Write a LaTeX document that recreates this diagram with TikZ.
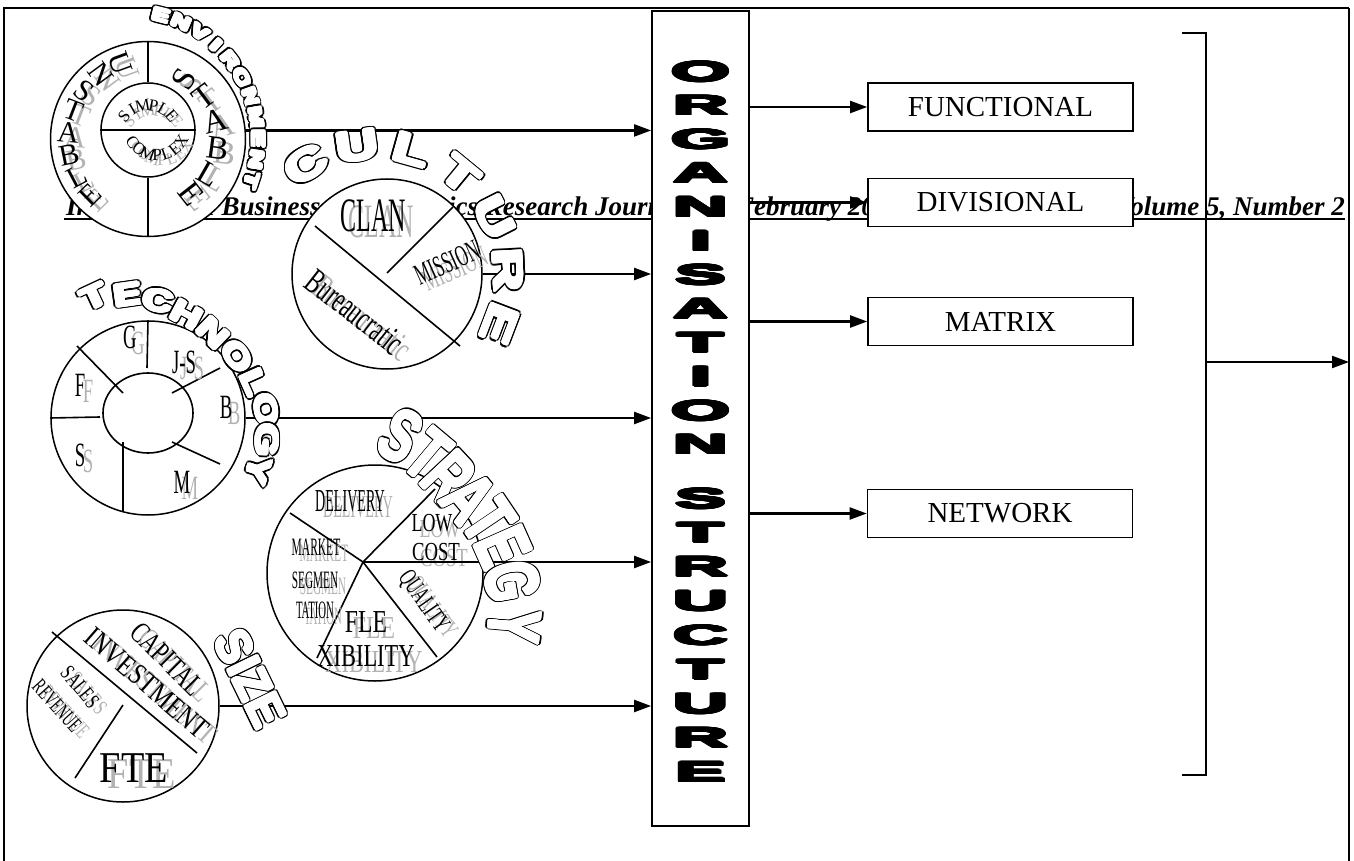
\documentclass[tikz,border=0pt]{standalone}
\usepackage{graphicx}
\usepackage{fontspec}
\setmainfont{Liberation Serif}
\newfontfamily\sansb{Liberation Sans}
\usepackage{contour}
\contournumber{16}
\usetikzlibrary{arrows.meta,calc}
\newcommand\cnd[3]{\scalebox{#1}[1]{\fontsize{#2}{#2}\selectfont #3}}
\newcommand\olet[3]{\scalebox{#1}[1]{\sansb\bfseries\fontsize{#2}{#2}\selectfont
  \rlap{\color{black}\contourlength{2.7pt}\contour{black}{#3}}%
  \contourlength{1.35pt}\contour{white}{#3}}}
\newcommand\orglet[1]{\scalebox{2.7}[1]{\sansb\bfseries\fontsize{28}{28}\selectfont\contourlength{0.9pt}\contour{black}{#1}}}
\newcommand\slab[5]{%
  \node[shd,rotate=#4] (#1s) at ({#2+8},{#3+6}) {#5};
  \node[lbl,rotate=#4] (#1) at (#2,#3) {#5};}
\begin{document}
\begin{tikzpicture}[x=1pt,y=-1pt,
  frame/.style={line width=1.2pt},
  conn/.style={line width=2.2pt,-{Triangle[length=17pt,width=12pt]}},
  ring/.style={draw,circle,line width=1.5pt,fill=white,inner sep=0pt},
  seg/.style={line width=1.6pt},
  lbl/.style={inner sep=0pt,text=black},
  shd/.style={inner sep=0pt,text=black!30},
  outl/.style={inner sep=0pt,text=white},
  typebox/.style={draw,line width=1.6pt,fill=white,minimum width=265pt,minimum height=48pt,inner sep=0pt,font=\fontsize{29}{29}\selectfont},
  hdr/.style={inner sep=0pt,font=\bfseries\itshape\fontsize{27}{27}\selectfont}]
\useasboundingbox (0,0) rectangle (1354,861);
% frame
\coordinate (fTL) at (4,8); \coordinate (fTR) at (1349,8); \coordinate (fBL) at (4,861);
\draw[frame] (fBL) -- (fTL) -- (fTR);
% header
\node[hdr,anchor=base west] (hdA) at (66,215) {International Business \& Economics Research Journal};
\node[hdr,anchor=base east] (hdB) at (902,215) {– February 2006};
\node[hdr,anchor=base east] (hdC) at (1345,215) {Volume 5, Number 2};
\coordinate (ulL) at (64,219); \coordinate (ulR) at (1345,219);
\draw[line width=2.2pt] (ulL) -- (ulR);
% organisation structure box
\node[draw,line width=1.8pt,fill=white,minimum width=97pt,minimum height=815pt,inner sep=0pt] (org) at (700.5,418.5) {};
\foreach \ch [count=\i] in {O,R,G,A,N,I,S,A,T,I,O,N}
  \node[inner sep=0pt] (oa\i) at (700.5,{72+(\i-1)*33.9}) {\orglet{\ch}};
\foreach \ch [count=\i] in {S,T,R,U,C,T,U,R,E}
  \node[inner sep=0pt] (ob\i) at (700.5,{499+(\i-1)*34.2}) {\orglet{\ch}};
% type boxes
\node[typebox] (fun) at (1000.5,107) {FUNCTIONAL};
\node[typebox] (div) at (1000.5,202.5) {DIVISIONAL};
\node[typebox] (mat) at (1000.5,321.5) {MATRIX};
\node[typebox] (net) at (1000,513.5) {NETWORK};
\foreach \b in {fun,div,mat,net} \draw[conn] (org.east |- \b.west) -- (\b.west);
% bracket and exit arrow
\coordinate (bt0) at (1182,33); \coordinate (bt) at (1206,33);
\coordinate (bb) at (1206,775); \coordinate (bb0) at (1182,775);
\draw[line width=1.6pt] (bt0) -- (bt) -- (bb) -- (bb0);
\coordinate (bm) at (1206,362); \coordinate (rb) at (1349,362); \coordinate (rbb) at (1349,861);
\draw[frame] (fTR) -- (rb);
\draw[line width=2.6pt] (rb) -- (rbb);
\draw[conn] (bm) -- (rb);
% ===== ENVIRONMENT =====
\node[ring,minimum size=195pt] (env) at (148,139) {};
\node[ring,minimum size=94pt] (envi) at (148,130) {};
\draw[seg] (env.north) -- (envi.north);
\draw[seg] (envi.south) -- (env.south);
\draw[seg] (envi.west) -- (envi.east);
\foreach \ch [count=\i] in {U,N,S,T,A,B,L,E}{
  \pgfmathsetmacro\a{110+(\i-1)*16.3}
  \node[shd,rotate=\a-180,font=\fontsize{30}{30}\selectfont] (uls\i) at ({148+80*cos(\a)+7},{139-80*sin(\a)+5}) {\ch};}
\foreach \ch [count=\i] in {S,T,A,B,L,E}{
  \pgfmathsetmacro\a{59-(\i-1)*22.2}
  \node[shd,rotate=\a,font=\fontsize{33}{33}\selectfont] (srs\i) at ({148+70*cos(\a)+7},{139-70*sin(\a)+5}) {\ch};}
\foreach \ch [count=\i] in {U,N,S,T,A,B,L,E}{
  \pgfmathsetmacro\a{110+(\i-1)*16.3}
  \node[lbl,rotate=\a-180,font=\fontsize{30}{30}\selectfont] (ul\i) at ({148+80*cos(\a)},{139-80*sin(\a)}) {\ch};}
\foreach \ch [count=\i] in {S,T,A,B,L,E}{
  \pgfmathsetmacro\a{59-(\i-1)*22.2}
  \node[lbl,rotate=\a,font=\fontsize{33}{33}\selectfont] (sr\i) at ({148+70*cos(\a)},{139-70*sin(\a)}) {\ch};}
\foreach \ch [count=\i] in {S,I,M,P,L,E}{
  \pgfmathsetmacro\a{140-(\i-1)*20}
  \node[shd,rotate=\a-90,font=\fontsize{17}{17}\selectfont] (sis\i) at ({148+31*cos(\a)+5},{136-31*sin(\a)+5}) {\ch};
  \node[lbl,rotate=\a-90,font=\fontsize{17}{17}\selectfont] (si\i) at ({148+31*cos(\a)},{136-31*sin(\a)}) {\ch};}
\foreach \ch [count=\i] in {C,O,M,P,L,E,X}{
  \pgfmathsetmacro\a{213+(\i-1)*19}
  \node[shd,rotate=\a+90,font=\fontsize{17}{17}\selectfont] (cos\i) at ({157+29*cos(\a)+5},{126-29*sin(\a)+5}) {\ch};
  \node[lbl,rotate=\a+90,font=\fontsize{17}{17}\selectfont] (co\i) at ({157+29*cos(\a)},{126-29*sin(\a)}) {\ch};}
% ===== CULTURE =====
\node[ring,minimum size=190pt] (cul) at (387,274) {};
\coordinate (cA) at (315,226); \coordinate (cB) at (460,346);
\coordinate (cC) at (387,273); \coordinate (cD) at (453,207);
\draw[seg] (cA) -- (cB);
\draw[seg] (cC) -- (cD);
\slab{clan}{373}{216}{0}{\cnd{0.5}{48}{CLAN}}
\slab{miss}{447}{263}{24}{\cnd{0.55}{30}{MISSION}}
\slab{bur}{355}{312}{-38}{\cnd{0.62}{36}{Bureaucratic}}
% ===== TECHNOLOGY =====
\node[ring,minimum size=194pt] (tech) at (148,418) {};
\draw[seg,fill=white] (148,413) ellipse [x radius=45, y radius=40];
\coordinate (t1) at (147,368); \coordinate (t2) at (77,346); \coordinate (t3) at (123,393);
\coordinate (t4) at (100,417); \coordinate (t5) at (172,393); \coordinate (t6) at (220,368);
\coordinate (t7) at (172,442); \coordinate (t8) at (220,464); \coordinate (t9) at (123,442);
\coordinate (t10) at (123,512);
\draw[seg] (tech.north) -- (t1);
\draw[seg] (t2) -- (t3);
\draw[seg] (tech.west) -- (t4);
\draw[seg] (t5) -- (t6);
\draw[seg] (t7) -- (t8);
\draw[seg] (t9) -- (t10);
\slab{tG}{130}{337}{0}{\cnd{0.55}{34}{G}}
\slab{tJS}{184}{362}{0}{\cnd{0.55}{34}{J-S}}
\slab{tF}{80}{385}{0}{\cnd{0.55}{34}{F}}
\slab{tB}{226}{407}{0}{\cnd{0.55}{34}{B}}
\slab{tS}{80}{455}{0}{\cnd{0.55}{34}{S}}
\slab{tM}{182}{482}{0}{\cnd{0.55}{34}{M}}
% ===== STRATEGY =====
\node[ring,minimum size=216pt] (strat) at (375,573) {};
\coordinate (stc) at (363,562);
\coordinate (s1) at (290,513); \coordinate (s2) at (435,489);
\coordinate (s3) at (317,658); \coordinate (s4) at (437,657);
\foreach \p in {s1,s2,s3,s4} \draw[seg] (stc) -- (\p);
\slab{sDel}{350}{501}{0}{\cnd{0.44}{32}{DELIVERY}}
\slab{sLow}{432}{523}{0}{\cnd{0.69}{26}{LOW}}
\slab{sCost}{436}{552}{0}{\cnd{0.72}{26}{COST}}
\slab{sMar}{316}{547}{0}{\cnd{0.46}{25}{MARKET}}
\slab{sSeg}{315}{580}{0}{\cnd{0.45}{25}{SEGMEN}}
\slab{sTat}{315}{610}{0}{\cnd{0.43}{25}{TATION}}
\slab{sFle}{366}{622}{0}{\cnd{0.74}{32}{FLE}}
\slab{sXib}{366}{656}{0}{\cnd{0.7}{32}{XIBILITY}}
\slab{sQua}{423}{602}{-55}{\cnd{0.6}{26}{QUALITY}}
% ===== SIZE =====
\node[ring,minimum size=192pt] (size) at (123,706) {};
\coordinate (z1) at (52,632); \coordinate (z2) at (197,753);
\coordinate (z3) at (123,705); \coordinate (z4) at (75,778);
\draw[seg] (z1) -- (z2);
\draw[seg] (z3) -- (z4);
\slab{zCap}{167}{659}{-45}{\cnd{0.72}{30}{CAPITAL}}
\slab{zInv}{147}{683}{-41}{\cnd{0.8}{30}{INVESTMENT}}
\slab{zSal}{80}{687}{-50}{\cnd{0.7}{22}{SALES}}
\slab{zRev}{57}{706}{-48}{\cnd{0.6}{22}{REVENUE}}
\slab{zFte}{134}{768}{0}{\cnd{0.87}{44}{FTE}}
% ===== arrows into the structure box =====
\draw[conn] (env.5) -- (env.5 -| org.west);
\draw[conn] (cul.east) -- (cul.east -| org.west);
\draw[conn] (tech.east) -- (tech.east -| org.west);
\draw[conn] (stc) -- (stc -| org.west);
\draw[conn] (size.east) -- (size.east -| org.west);
% ===== outlined arc titles =====
\foreach \ch [count=\i] in {E,N,V,I,R,O,N,M,E,N,T}{
  \pgfmathsetmacro\a{76-(\i-1)*9.44}
  \node[outl,rotate=\a-90] (envw\i) at ({130+127*cos(\a)},{140-127*sin(\a)}) {\olet{1.45}{18}{\ch}};}
\foreach \ch [count=\i] in {C,U,L,T,U,R,E}{
  \pgfmathsetmacro\a{122-(\i-1)*23.8}
  \node[outl,rotate=\a-90] (culw\i) at ({376+131*cos(\a)},{277-131*sin(\a)}) {\olet{1.4}{42}{\ch}};}
\foreach \ch/\x/\y/\r [count=\i] in {T/95/298/25,E/128/296/8,C/158/302/-10,H/186/316/-28,N/212/334/-44,O/236/357/-56,L/253/383/-66,O/265/410/-78,G/266/440/-92,Y/257/470/-108}
  \node[outl,rotate=\r] (tecw\i) at (\x,\y) {\olet{1.35}{31}{\ch}};
\foreach \ch/\x/\y/\r [count=\i] in {S/400/437/-30,T/427/456/-40,R/448/478/-47,A/468/499/-50,T/488/522/-56,E/502/548/-66,G/511/582/-80,Y/513/626/-95}
  \node[outl,rotate=\r] (strw\i) at (\x,\y) {\olet{0.68}{74}{\ch}};
\node[outl,rotate=-64] (sizew) at (249,679) {\olet{0.95}{48}{SIZE}};
\end{tikzpicture}
\end{document}
